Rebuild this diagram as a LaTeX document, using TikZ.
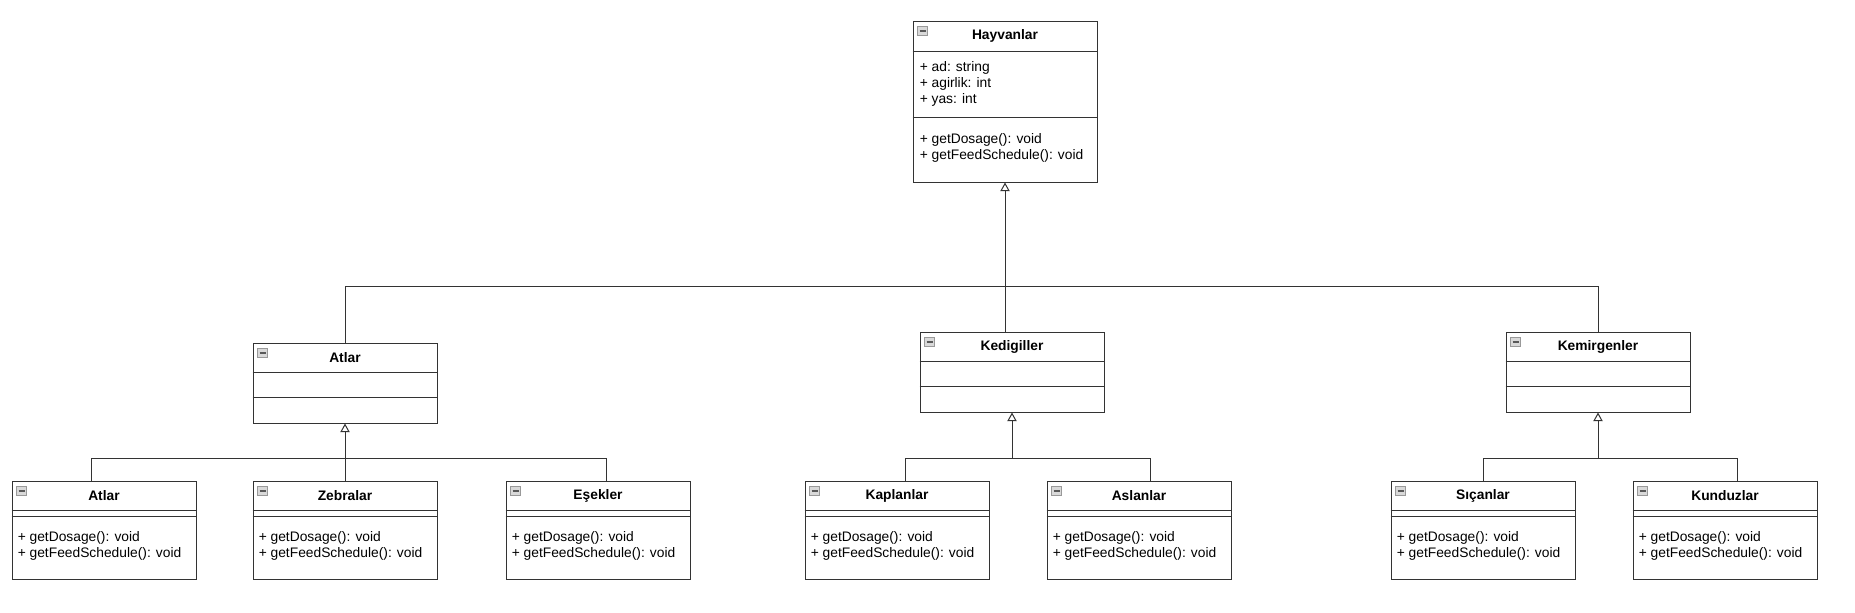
\documentclass[tikz,border=0pt]{standalone}
\usepackage{fontspec}
\setmainfont{Liberation Sans}
\usetikzlibrary{arrows.meta,calc}

\begin{document}
\begin{tikzpicture}[x=0.75pt,y=-0.75pt,
  classbox/.style={draw=black!80, line width=0.75pt, fill=white, inner sep=0pt, minimum width=138pt},
  leafbox/.style={classbox, minimum height=73.5pt},
  midbox/.style={classbox, minimum height=60pt},
  titletext/.style={font=\fontsize{10.35pt}{12pt}\selectfont\bfseries, inner sep=0pt},
  membertext/.style={font=\fontsize{10.35pt}{12pt}\selectfont, align=left, anchor=west, inner sep=0pt},
  wire/.style={draw=black!80, line width=0.75pt},
  inherit/.style={wire, -{Triangle[open,length=6.5pt,width=7pt]}}]
  % Page size (1 unit = 1 px of the original export)
  \useasboundingbox (0,0) rectangle (1855,612);

  % Collapse icon in the top left corner of a class
  \def\minusicon#1{%
    \draw[draw=gray!80, fill=gray!30, line width=0.6pt] ($(#1.north west)+(5,6)$) rectangle ($(#1.north west)+(15,15)$);
    \draw[black!65, line width=1.5pt] ($(#1.north west)+(7,10.5)$) -- ($(#1.north west)+(13,10.5)$);}

  % Base class
  \node[classbox, minimum height=120.75pt] (hayvanlar) at (1005,101.5) {};
  \node[titletext] (hayvanlar-t) at ($(hayvanlar.north)+(0,15.5)$) {Hayvanlar};
  \draw[wire] ($(hayvanlar.north west)+(0,31)$) -- ($(hayvanlar.north east)+(0,31)$);
  \draw[wire] ($(hayvanlar.north west)+(0,97)$) -- ($(hayvanlar.north east)+(0,97)$);
  \node[membertext] (hayvanlar-a) at ($(hayvanlar.north west)+(7,63)$) {+ ad: string\\+ agirlik: int\\+ yas: int};
  \node[membertext] (hayvanlar-m) at ($(hayvanlar.north west)+(7,127)$) {+ getDosage(): void\\+ getFeedSchedule(): void};
  \minusicon{hayvanlar}

  % Middle classes (empty attributes and operations)
  \foreach \nm/\cx/\cy/\ttl in {atlar/345/383/Atlar, kedigiller/1012/372/Kedigiller, kemirgenler/1598/372/Kemirgenler} {
    \node[midbox] (\nm) at (\cx,\cy) {};
    \node[titletext] (\nm-t) at ($(\nm.north)+(0,15)$) {\ttl};
    \draw[wire] ($(\nm.north west)+(0,30)$) -- ($(\nm.north east)+(0,30)$);
    \draw[wire] ($(\nm.north west)+(0,55)$) -- ($(\nm.north east)+(0,55)$);
    \minusicon{\nm}
  }

  % Leaf classes (x centre, offset of the incoming line)
  \foreach \nm/\cx/\dx/\ttl in {atlarAlt/104/-13/Atlar, zebralar/345/0/Zebralar, esekler/598/8/Eşekler,
      kaplanlar/897/8/Kaplanlar, aslanlar/1139/11/Aslanlar, sicanlar/1483/0/Sıçanlar, kunduzlar/1725/12/Kunduzlar} {
    \node[leafbox] (\nm) at (\cx,530) {};
    \node[titletext] (\nm-t) at ($(\nm.north)+(0,15)$) {\ttl};
    \draw[wire] ($(\nm.north west)+(0,30)$) -- ($(\nm.north east)+(0,30)$);
    \draw[wire] ($(\nm.north west)+(0,36)$) -- ($(\nm.north east)+(0,36)$);
    \node[membertext] (\nm-m) at ($(\nm.north west)+(6,65)$) {+ getDosage(): void\\+ getFeedSchedule(): void};
    \minusicon{\nm}
    \coordinate (\nm-in) at ($(\nm.north)+(\dx,0)$);
  }

  % Hayvanlar hierarchy
  \coordinate (topbus) at (1005,286);
  \draw[inherit] (kedigiller.north -| hayvanlar.south) -- (hayvanlar.south);
  \draw[wire] (atlar.north) |- (topbus) -| (kemirgenler.north);

  % Atlar hierarchy
  \coordinate (atlarbus) at ($(atlar.south)+(0,35)$);
  \draw[inherit] (atlarbus) -- (atlar.south);
  \draw[wire] (atlarAlt-in) |- (atlarbus) -| (esekler-in);
  \draw[wire] (zebralar-in) -- (atlarbus);

  % Kedigiller hierarchy
  \coordinate (kedibus) at ($(kedigiller.south)+(0,46)$);
  \draw[inherit] (kedibus) -- (kedigiller.south);
  \draw[wire] (kaplanlar-in) |- (kedibus) -| (aslanlar-in);

  % Kemirgenler hierarchy
  \coordinate (kemibus) at ($(kemirgenler.south)+(0,46)$);
  \draw[inherit] (kemibus) -- (kemirgenler.south);
  \draw[wire] (sicanlar-in) |- (kemibus) -| (kunduzlar-in);
\end{tikzpicture}
\end{document}
